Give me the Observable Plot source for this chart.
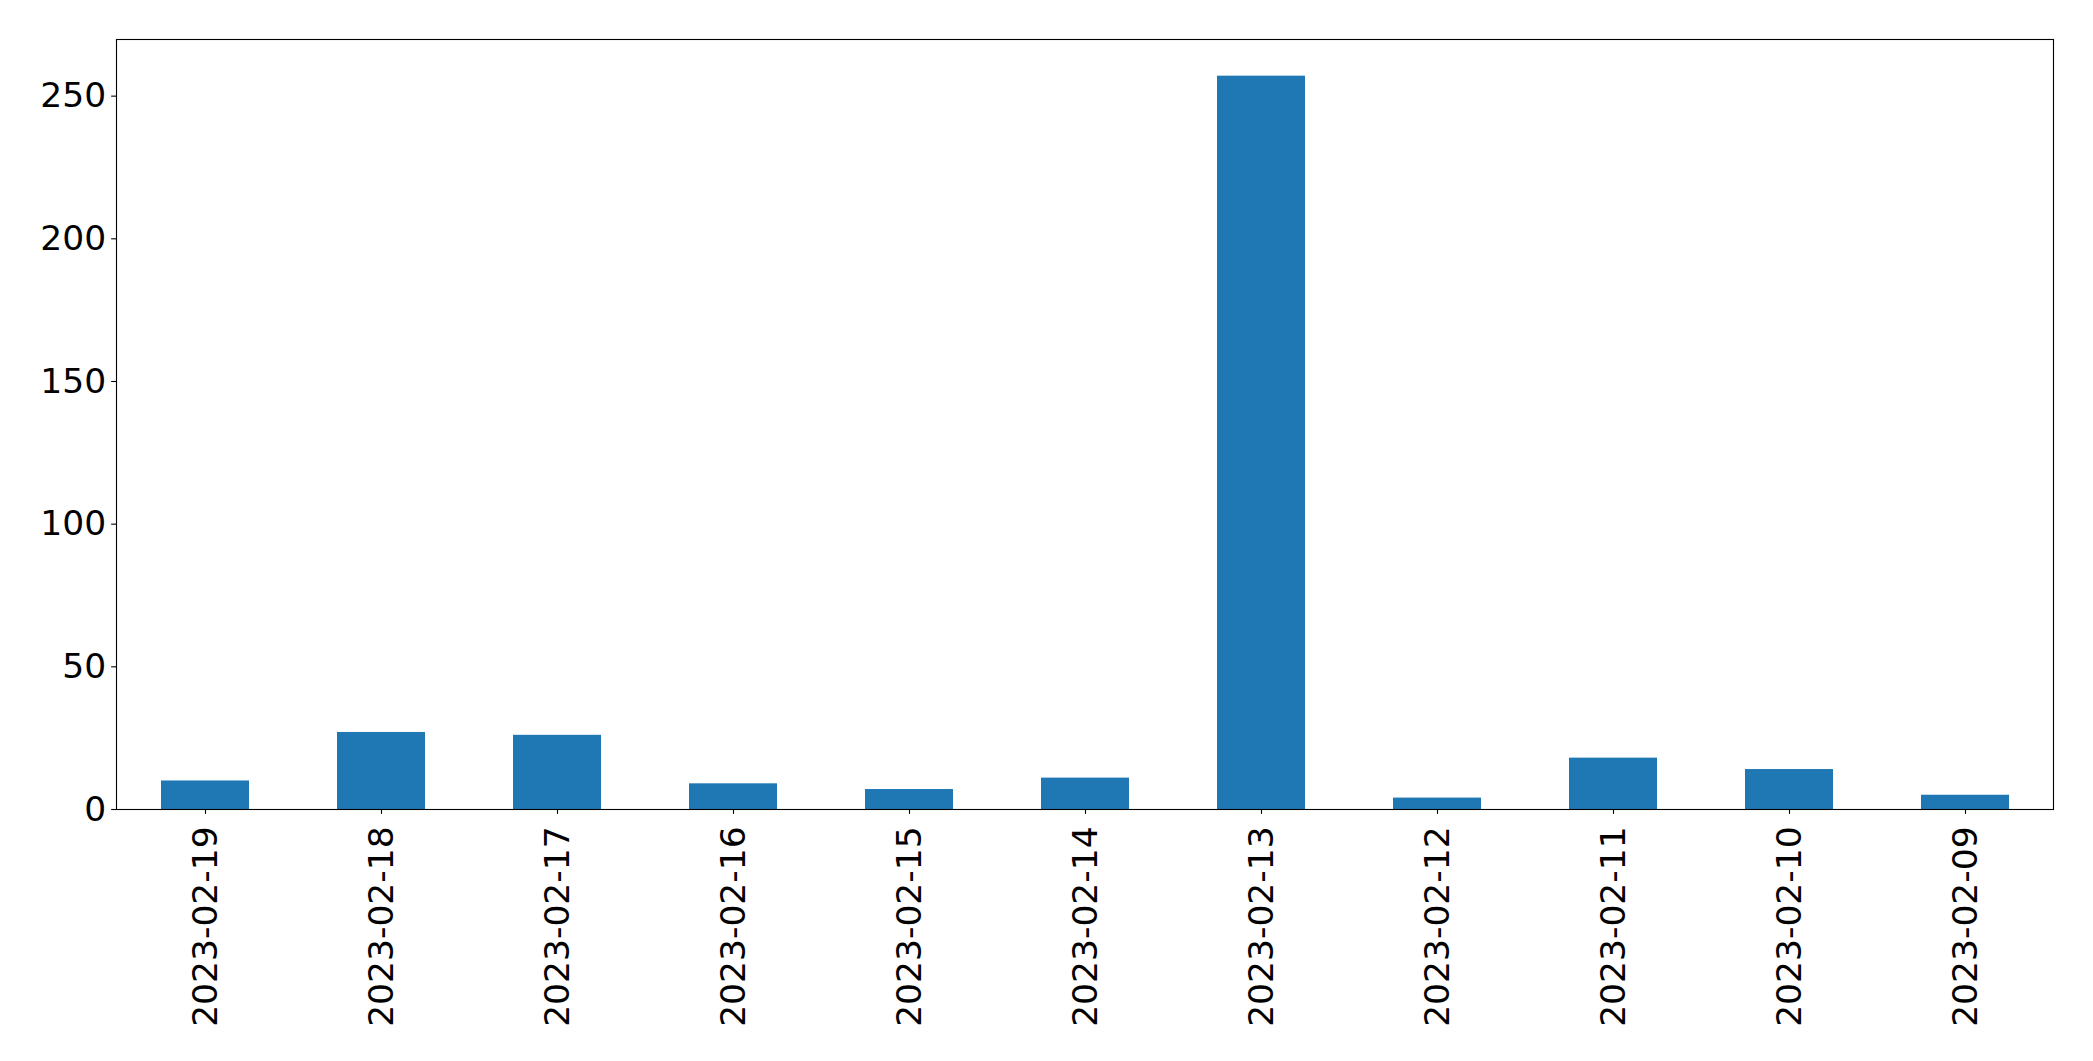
<!DOCTYPE html>
<html>
<head>
<meta charset="utf-8">
<script src="https://cdn.jsdelivr.net/npm/d3@7"></script>
<script src="https://cdn.jsdelivr.net/npm/@observablehq/plot@0.6"></script>
<style>
  html, body { margin: 0; padding: 0; background: #fff; }
</style>
</head>
<body>
<div id="chart"></div>
<script>
const dates = ["2023-02-19","2023-02-18","2023-02-17","2023-02-16","2023-02-15","2023-02-14","2023-02-13","2023-02-12","2023-02-11","2023-02-10","2023-02-09"];
const counts = [10, 27, 26, 9, 7, 11, 257, 4, 18, 14, 5];
const yTicks = [0, 50, 100, 150, 200, 250];

const data = dates.map((d, i) => ({date: d, count: counts[i]}));
const yMax = d3.max(counts) * 1.05;

const chart = Plot.plot({
  width: 2093,
  height: 1061,
  marginLeft: 116,
  marginRight: 40,
  marginTop: 39,
  marginBottom: 252,
  style: {fontFamily: "'DejaVu Sans', sans-serif", fontSize: "34.5px", color: "black", background: "white"},
  x: {domain: dates, paddingInner: 0.5, paddingOuter: 0.25, label: null},
  y: {domain: [0, yMax], label: null},
  marks: [
    Plot.barY(data, {x: "date", y: "count", fill: "#1f77b4"}),
    Plot.axisX({tickRotate: -90, tickSize: 4.86, tickPadding: 12, label: null, strokeWidth: 1.1}),
    Plot.axisY({ticks: yTicks, tickSize: 4.86, tickPadding: 5.5, label: null, strokeWidth: 1.1}),
    Plot.frame({stroke: "black", strokeWidth: 1.1})
  ]
});
document.getElementById("chart").appendChild(chart);
</script>
</body>
</html>
